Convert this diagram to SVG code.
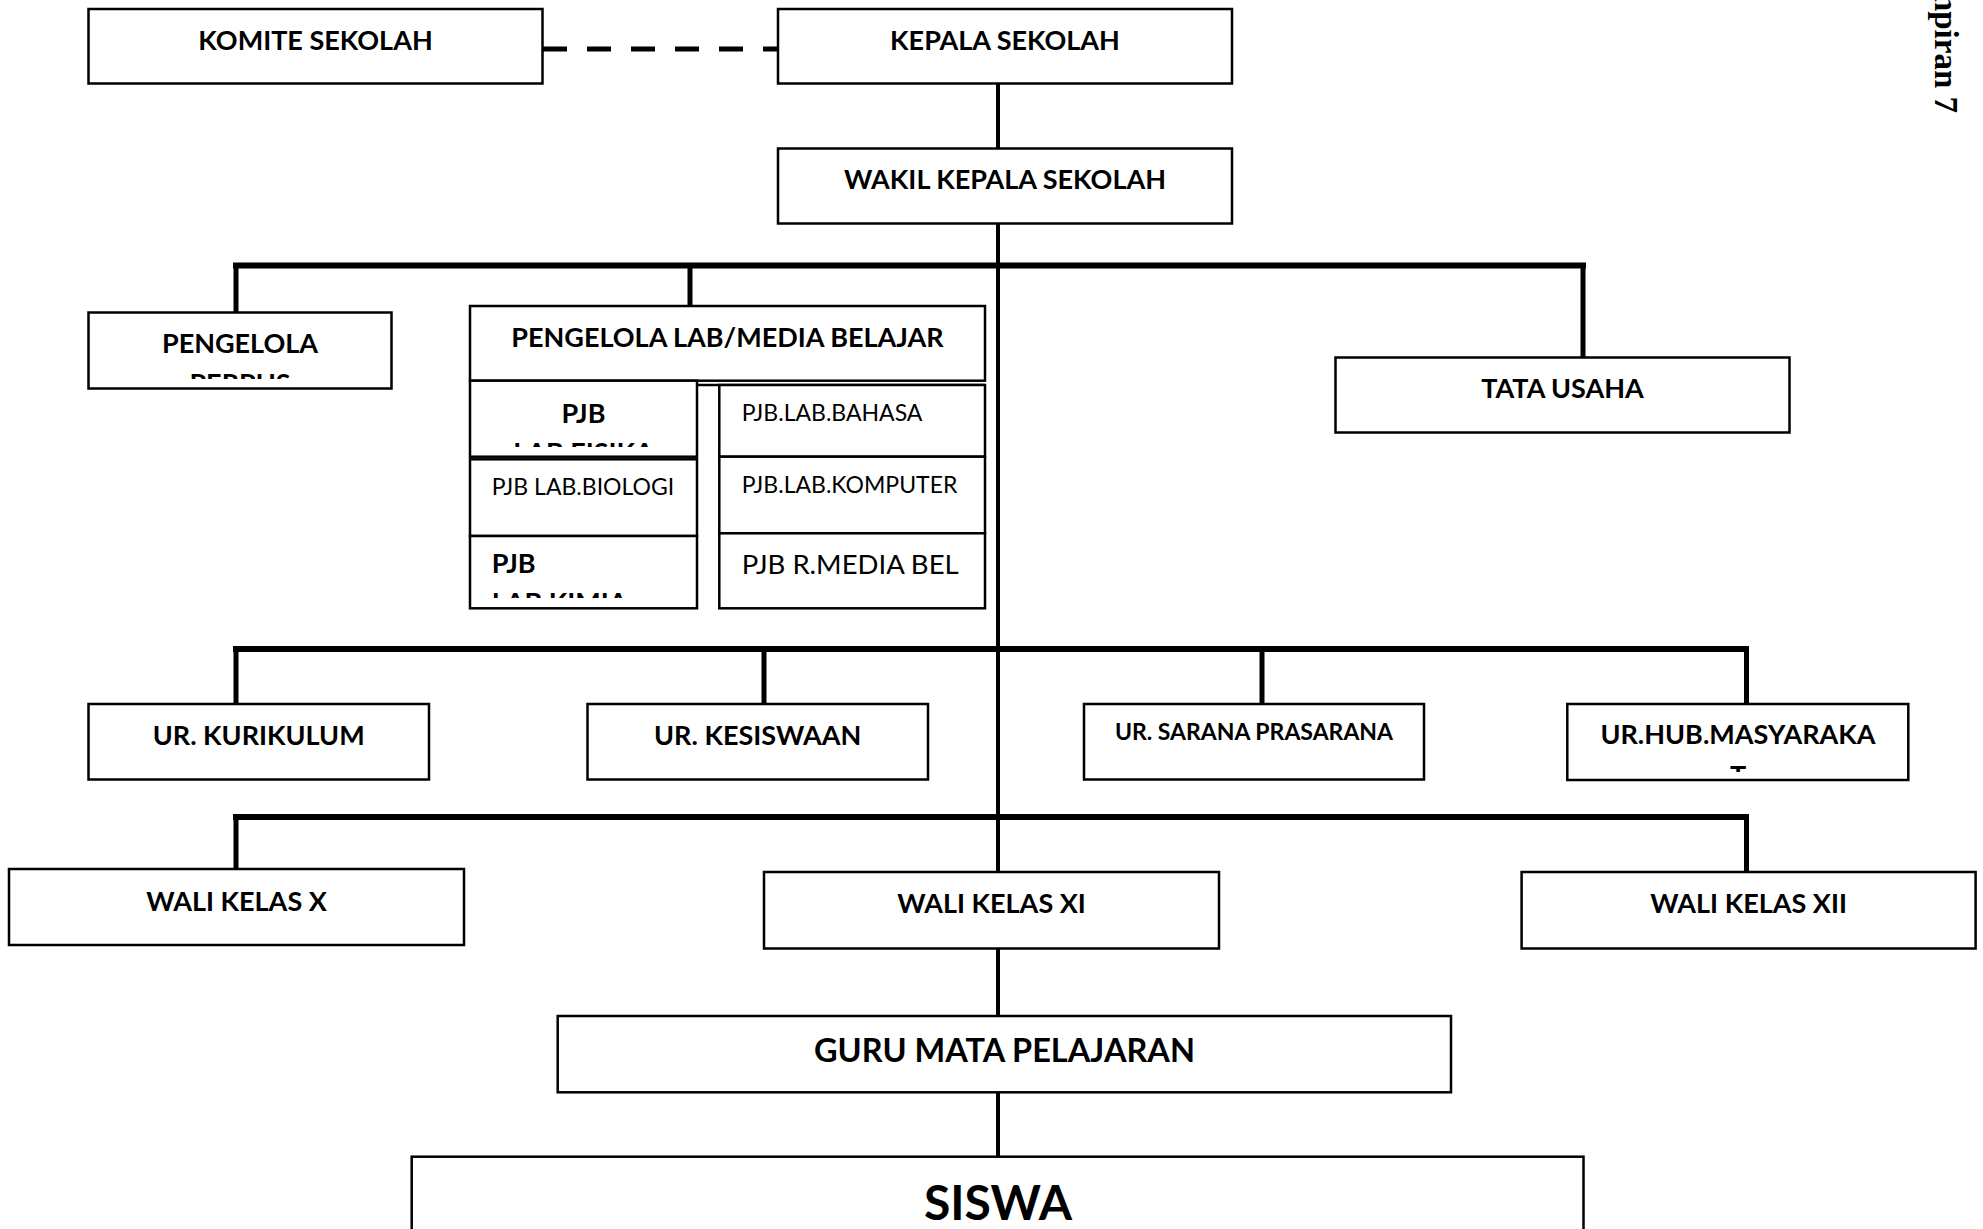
<svg xmlns="http://www.w3.org/2000/svg" width="1983" height="1229" viewBox="0 0 1983 1229">
<style>
.box{fill:#fff;stroke:#000;stroke-width:2.5}
.t{font-family:Lato,"Liberation Sans",sans-serif;font-weight:bold;font-size:27px;fill:#000;text-anchor:middle}
.r{font-family:Lato,"Liberation Sans",sans-serif;font-weight:normal;font-size:23px;fill:#000}
.trunk{stroke:#000;stroke-width:4;fill:none}
.bar{stroke:#000;stroke-width:6;fill:none}
.drop{stroke:#000;stroke-width:5;fill:none}
</style>
<defs>
<clipPath id="cpPerpus"><rect x="88" y="312" width="304" height="67"/></clipPath>
<clipPath id="cpFisika"><rect x="470" y="381" width="227" height="66"/></clipPath>
<clipPath id="cpKimia"><rect x="470" y="536" width="227" height="62"/></clipPath>
<clipPath id="cpHub"><rect x="1567" y="704" width="341" height="68"/></clipPath>
</defs>
<rect width="1983" height="1229" fill="#fff"/>
<g id="connectors">
<line x1="543" y1="49" x2="778" y2="49" stroke="#000" stroke-width="5" stroke-dasharray="24 20"/>
<line class="trunk" x1="998" y1="83" x2="998" y2="1157"/>
<line class="bar" x1="233" y1="265.5" x2="1586" y2="265.5"/>
<line class="drop" x1="236" y1="265" x2="236" y2="312"/>
<line class="drop" x1="690" y1="265" x2="690" y2="306"/>
<line class="drop" x1="1583" y1="265" x2="1583" y2="357"/>
<line class="bar" x1="233" y1="649" x2="1749" y2="649"/>
<line class="drop" x1="236" y1="649" x2="236" y2="704"/>
<line class="drop" x1="764" y1="649" x2="764" y2="704"/>
<line class="drop" x1="1262" y1="649" x2="1262" y2="704"/>
<line class="drop" x1="1746.5" y1="649" x2="1746.5" y2="704"/>
<line class="bar" x1="233" y1="817" x2="1749" y2="817"/>
<line class="drop" x1="236" y1="817" x2="236" y2="869"/>
<line class="drop" x1="1746.5" y1="817" x2="1746.5" y2="872"/>
</g>
<g id="komite"><rect class="box" x="88.5" y="9" width="454" height="74.5"/><text class="t" x="315.5" y="50">KOMITE SEKOLAH</text></g>
<g id="kepala"><rect class="box" x="778" y="9" width="454" height="74.5"/><text class="t" x="1005" y="50">KEPALA SEKOLAH</text></g>
<g id="wakil"><rect class="box" x="778" y="148.5" width="454" height="75"/><text class="t" x="1005" y="188.5">WAKIL KEPALA SEKOLAH</text></g>
<g id="perpus"><rect class="box" x="88.5" y="312.5" width="303" height="76"/><g clip-path="url(#cpPerpus)"><text class="t" x="240" y="353.3">PENGELOLA</text><text class="t" x="240" y="393">PERPUS</text></g></g>
<g id="lab">
<rect class="box" x="470" y="306" width="515" height="74.7"/>
<text class="t" x="727.5" y="346.7">PENGELOLA LAB/MEDIA BELAJAR</text>
<rect class="box" x="470" y="380.7" width="227" height="76"/>
<g clip-path="url(#cpFisika)"><text class="t" x="583.5" y="422.7">PJB</text><text class="t" x="583.5" y="461.5">LAB FISIKA</text></g>
<rect class="box" x="470" y="459.3" width="227" height="76.7"/>
<text class="r" x="491.7" y="495">PJB LAB.BIOLOGI</text>
<rect class="box" x="470" y="536" width="227" height="72.3"/>
<g clip-path="url(#cpKimia)"><text class="t" x="491.7" y="573.3" style="text-anchor:start">PJB</text><text class="t" x="491.7" y="612" style="text-anchor:start">LAB KIMIA</text></g>
<line x1="697" y1="385" x2="985" y2="385" stroke="#000" stroke-width="2.5"/>
<rect class="box" x="719.3" y="385" width="265.7" height="71.7"/>
<text class="r" x="741.7" y="420.7">PJB.LAB.BAHASA</text>
<rect class="box" x="719.3" y="456.7" width="265.7" height="76.6"/>
<text class="r" x="741.7" y="492.7">PJB.LAB.KOMPUTER</text>
<rect class="box" x="719.3" y="533.3" width="265.7" height="75"/>
<text class="r" x="741.7" y="574" style="font-size:27.5px">PJB R.MEDIA BEL</text>
</g>
<g id="tatausaha"><rect class="box" x="1335.5" y="357.5" width="454" height="75"/><text class="t" x="1562.5" y="398.3">TATA USAHA</text></g>
<g id="kurikulum"><rect class="box" x="88.5" y="704" width="340.5" height="75.5"/><text class="t" x="258.7" y="745">UR. KURIKULUM</text></g>
<g id="kesiswaan"><rect class="box" x="587.5" y="704" width="340.5" height="75.5"/><text class="t" x="757.7" y="745">UR. KESISWAAN</text></g>
<g id="sarana"><rect class="box" x="1084" y="704" width="340" height="75.5"/><text class="t" x="1254" y="740" style="font-size:23px">UR. SARANA PRASARANA</text></g>
<g id="humas"><rect class="box" x="1567.3" y="704" width="341" height="76"/><g clip-path="url(#cpHub)"><text class="t" x="1738" y="744.3">UR.HUB.MASYARAKA</text><text class="t" x="1738" y="785">T</text></g></g>
<g id="walix"><rect class="box" x="9" y="869" width="455" height="76"/><text class="t" x="236.5" y="910.5">WALI KELAS X</text></g>
<g id="walixi"><rect class="box" x="764" y="872" width="455" height="76.5"/><text class="t" x="991.5" y="913">WALI KELAS XI</text></g>
<g id="walixii"><rect class="box" x="1521.6" y="872" width="454" height="76.5"/><text class="t" x="1748.6" y="913.3">WALI KELAS XII</text></g>
<g id="guru"><rect class="box" x="557.7" y="1016" width="893.3" height="76.3"/><text class="t" x="1004.5" y="1062" style="font-size:32.5px">GURU MATA PELAJARAN</text></g>
<g id="siswa"><rect class="box" x="411.7" y="1156.7" width="1171.8" height="90"/><text class="t" x="998" y="1220" style="font-size:48px">SISWA</text></g>
<text transform="translate(1935,113) rotate(90)" x="0" y="0" style="font-family:'Liberation Serif',serif;font-weight:bold;font-size:33px;text-anchor:end">Lampiran 7</text>
</svg>
